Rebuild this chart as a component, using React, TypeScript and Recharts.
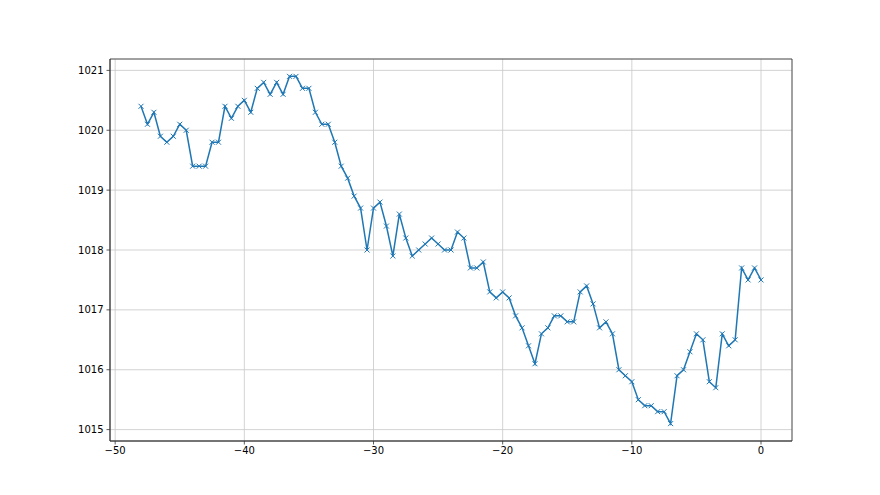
import React from "react";
import { LineChart, Line, XAxis, YAxis, CartesianGrid, ReferenceArea } from "recharts";

const hours: number[] = [];
for (let i = 0; i < 97; i++) hours.push(-48 + i * 0.5);

const pressure: number[] = [
  1020.4, 1020.1, 1020.3, 1019.9, 1019.8, 1019.9, 1020.1, 1020.0, 1019.4, 1019.4,
  1019.4, 1019.8, 1019.8, 1020.4, 1020.2, 1020.4, 1020.5, 1020.3, 1020.7, 1020.8,
  1020.6, 1020.8, 1020.6, 1020.9, 1020.9, 1020.7, 1020.7, 1020.3, 1020.1, 1020.1,
  1019.8, 1019.4, 1019.2, 1018.9, 1018.7, 1018.0, 1018.7, 1018.8, 1018.4, 1017.9,
  1018.6, 1018.2, 1017.9, 1018.0, 1018.1, 1018.2, 1018.1, 1018.0, 1018.0, 1018.3,
  1018.2, 1017.7, 1017.7, 1017.8, 1017.3, 1017.2, 1017.3, 1017.2, 1016.9, 1016.7,
  1016.4, 1016.1, 1016.6, 1016.7, 1016.9, 1016.9, 1016.8, 1016.8, 1017.3, 1017.4,
  1017.1, 1016.7, 1016.8, 1016.6, 1016.0, 1015.9, 1015.8, 1015.5, 1015.4, 1015.4,
  1015.3, 1015.3, 1015.1, 1015.9, 1016.0, 1016.3, 1016.6, 1016.5, 1015.8, 1015.7,
  1016.6, 1016.4, 1016.5, 1017.7, 1017.5, 1017.7, 1017.5,
];

const xTicks = [-50, -40, -30, -20, -10, 0];
const yTicks = [1015, 1016, 1017, 1018, 1019, 1020, 1021];

const data = hours.map((h, i) => ({ h, p: pressure[i] }));

const XMark = (props: any) => {
  const { cx, cy, index } = props;
  if (cx == null || cy == null) return <g key={index} />;
  const s = 2.5;
  return (
    <g key={index} stroke="#1f77b4" strokeWidth={1}>
      <line x1={cx - s} y1={cy - s} x2={cx + s} y2={cy + s} />
      <line x1={cx - s} y1={cy + s} x2={cx + s} y2={cy - s} />
    </g>
  );
};

const tickStyle = { fill: "#000", fontSize: 10, fontFamily: "DejaVu Sans" };

export default function App() {
  return (
    <div style={{ position: "absolute", left: 0, top: 0, width: 880, height: 495, background: "#fff" }}>
      <LineChart
        width={880}
        height={495}
        data={data}
        margin={{ top: 59, right: 88, bottom: 0, left: 0 }}
      >
        <CartesianGrid stroke="#c8c8c8" strokeWidth={0.8} horizontal vertical />
        <XAxis
          dataKey="h"
          type="number"
          domain={[-50.4, 2.4]}
          ticks={xTicks}
          allowDataOverflow
          height={54}
          tick={tickStyle}
          tickLine={{ stroke: "#333", strokeWidth: 0.8 }}
          axisLine={{ stroke: "#333", strokeWidth: 0.8 }}
          tickSize={3.5}
          tickMargin={2}
          tickFormatter={(v: number) => (v < 0 ? "\u2212" + Math.abs(v) : String(v))}
        />
        <YAxis
          dataKey="p"
          type="number"
          domain={[1014.81, 1021.19]}
          ticks={yTicks}
          allowDataOverflow
          width={110}
          tick={tickStyle}
          tickLine={{ stroke: "#333", strokeWidth: 0.8 }}
          axisLine={{ stroke: "#333", strokeWidth: 0.8 }}
          tickSize={3.5}
          tickMargin={3}
        />
        <ReferenceArea
          x1={-50.4}
          x2={2.4}
          y1={1014.81}
          y2={1021.19}
          fill="none"
          fillOpacity={0}
          stroke="#333"
          strokeWidth={0.8}
          ifOverflow="visible"
        />
        <Line
          dataKey="p"
          stroke="#1f77b4"
          strokeWidth={1.5}
          dot={<XMark />}
          activeDot={false}
          isAnimationActive={false}
        />
      </LineChart>
    </div>
  );
}
